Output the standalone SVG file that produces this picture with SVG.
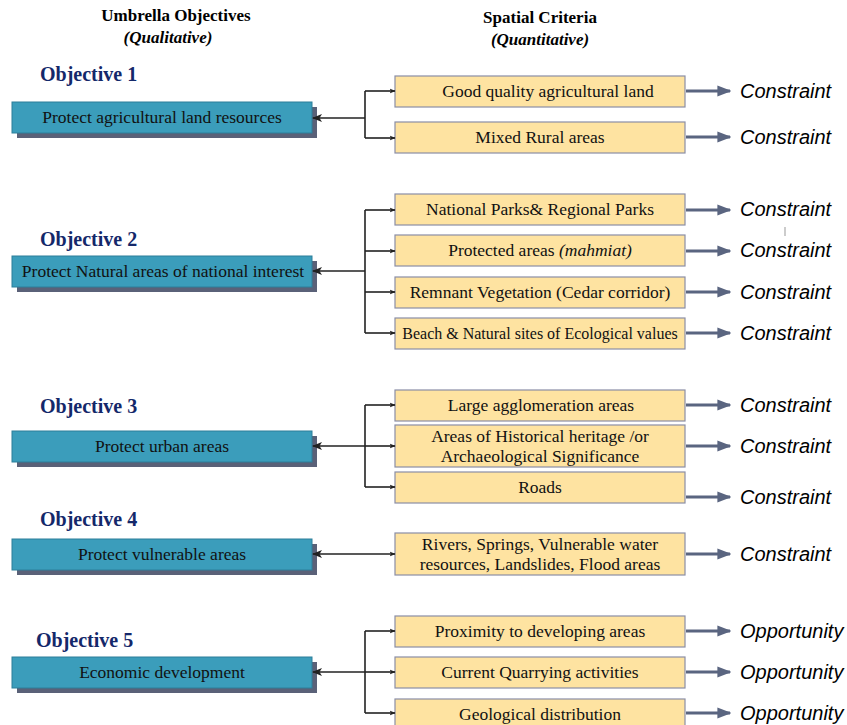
<svg xmlns="http://www.w3.org/2000/svg" width="847" height="725" viewBox="0 0 847 725">
<style>
.hdr{font-family:"Liberation Serif","Times New Roman",serif;font-weight:bold;font-size:17px;fill:#000;text-anchor:middle}
.hdri{font-style:italic}
.obj{font-family:"Liberation Serif","Times New Roman",serif;font-weight:bold;font-size:20px;fill:#14286a}
.tb{fill:#3b9dbb;stroke:#2d7f9a;stroke-width:1}
.sh{fill:#5a6178}
.tt{font-family:"Liberation Serif","Times New Roman",serif;font-size:17.5px;fill:#111;text-anchor:middle}
.cb{fill:#fee3a1;stroke:#8a8ea6;stroke-width:1.2}
.ct{font-family:"Liberation Serif","Times New Roman",serif;font-size:17.5px;fill:#111;text-anchor:middle}
.res{font-family:"Liberation Sans",Arial,sans-serif;font-style:italic;font-size:20px;fill:#000}
.ln{fill:none;stroke:#222;stroke-width:1.6}
.ga{fill:none;stroke:#5a6580;stroke-width:3}
</style>
<defs>
<marker id="ah" viewBox="0 0 10 10" refX="9" refY="5" markerWidth="6" markerHeight="6" orient="auto-start-reverse" markerUnits="userSpaceOnUse">
<path d="M0,1 L10,5 L0,9 L2.5,5 Z" fill="#222"/>
</marker>
<marker id="ahl" viewBox="0 0 10 10" refX="9" refY="5" markerWidth="10" markerHeight="10" orient="auto-start-reverse" markerUnits="userSpaceOnUse">
<path d="M0,1 L10,5 L0,9 L2.5,5 Z" fill="#222"/>
</marker>
<marker id="ga" viewBox="0 0 10 10" refX="9" refY="5" markerWidth="14" markerHeight="14" orient="auto" markerUnits="userSpaceOnUse">
<path d="M0,1 L10,5 L0,9 Z" fill="#5a6580"/>
</marker>
</defs>

<g id="headers">
<text class="hdr" x="176" y="21">Umbrella Objectives</text>
<text class="hdr hdri" x="168" y="43">(Qualitative)</text>
<text class="hdr" x="540" y="23">Spatial Criteria</text>
<text class="hdr hdri" x="540" y="45">(Quantitative)</text>
</g>

<g id="objective1">
<text class="obj" x="40" y="81">Objective 1</text>
<rect class="sh" x="17" y="107" width="300" height="31"/>
<rect class="tb" x="12" y="102" width="300" height="31"/>
<text class="tt" x="162" y="123">Protect agricultural land resources</text>
</g>
<g id="objective2">
<text class="obj" x="40" y="246">Objective 2</text>
<rect class="sh" x="17" y="261" width="300" height="31"/>
<rect class="tb" x="12" y="256" width="300" height="31"/>
<text class="tt" x="163" y="277">Protect Natural areas of national interest</text>
</g>
<g id="objective3">
<text class="obj" x="40" y="413">Objective 3</text>
<rect class="sh" x="17" y="436" width="300" height="31"/>
<rect class="tb" x="12" y="431" width="300" height="31"/>
<text class="tt" x="162" y="452">Protect urban areas</text>
</g>
<g id="objective4">
<text class="obj" x="40" y="526">Objective 4</text>
<rect class="sh" x="17" y="544" width="300" height="31"/>
<rect class="tb" x="12" y="539" width="300" height="31"/>
<text class="tt" x="162" y="560">Protect vulnerable areas</text>
</g>
<g id="objective5">
<text class="obj" x="36" y="647">Objective 5</text>
<rect class="sh" x="17" y="662" width="300" height="31"/>
<rect class="tb" x="12" y="657" width="300" height="31"/>
<text class="tt" x="162" y="678">Economic development</text>
</g>

<g id="c1"><rect class="cb" x="395" y="76" width="290" height="31"/><text class="ct" x="548" y="97">Good quality agricultural land</text></g>
<g id="c2"><rect class="cb" x="395" y="122" width="290" height="31"/><text class="ct" x="540" y="143">Mixed Rural areas</text></g>
<g id="c3"><rect class="cb" x="395" y="194" width="290" height="31"/><text class="ct" x="540" y="215">National Parks&amp; Regional Parks</text></g>
<g id="c4"><rect class="cb" x="395" y="235" width="290" height="31"/><text class="ct" x="540" y="256">Protected areas <tspan font-style="italic">(mahmiat)</tspan></text></g>
<g id="c5"><rect class="cb" x="395" y="277" width="290" height="31"/><text class="ct" x="540" y="298">Remnant Vegetation (Cedar corridor)</text></g>
<g id="c6"><rect class="cb" x="395" y="318" width="290" height="31"/><text class="ct" x="540" y="339" style="font-size:16px">Beach &amp; Natural sites of Ecological values</text></g>
<g id="c7"><rect class="cb" x="395" y="390" width="290" height="31"/><text class="ct" x="541" y="411">Large agglomeration areas</text></g>
<g id="c8"><rect class="cb" x="395" y="425" width="290" height="42"/><text class="ct" x="540" y="442">Areas of Historical heritage /or</text><text class="ct" x="540" y="462">Archaeological Significance</text></g>
<g id="c9"><rect class="cb" x="395" y="472" width="290" height="31"/><text class="ct" x="540" y="493">Roads</text></g>
<g id="c10"><rect class="cb" x="395" y="533" width="290" height="42"/><text class="ct" x="540" y="550">Rivers, Springs, Vulnerable water</text><text class="ct" x="540" y="570">resources, Landslides, Flood areas</text></g>
<g id="c11"><rect class="cb" x="395" y="616" width="290" height="31"/><text class="ct" x="540" y="637">Proximity to developing areas</text></g>
<g id="c12"><rect class="cb" x="395" y="657" width="290" height="31"/><text class="ct" x="540" y="678">Current Quarrying activities</text></g>
<g id="c13"><rect class="cb" x="395" y="699" width="290" height="31"/><text class="ct" x="540" y="720">Geological distribution</text></g>

<g id="results">
<text class="res" x="740" y="98">Constraint</text>
<text class="res" x="740" y="144">Constraint</text>
<text class="res" x="740" y="216">Constraint</text>
<text class="res" x="740" y="257">Constraint</text>
<text class="res" x="740" y="299">Constraint</text>
<text class="res" x="740" y="340">Constraint</text>
<text class="res" x="740" y="412">Constraint</text>
<text class="res" x="740" y="453">Constraint</text>
<text class="res" x="740" y="504">Constraint</text>
<text class="res" x="740" y="561">Constraint</text>
<text class="res" x="740" y="638">Opportunity</text>
<text class="res" x="740" y="679">Opportunity</text>
<text class="res" x="740" y="720">Opportunity</text>
<line x1="785" y1="227" x2="785" y2="236" stroke="#999" stroke-width="1"/>
</g>

<g id="connectors">
<path class="ln" d="M365,118 H313" marker-end="url(#ahl)"/>
<path class="ln" d="M365,91 V138"/>
<path class="ln" d="M365,91 H395" marker-end="url(#ah)"/>
<path class="ln" d="M365,138 H395" marker-end="url(#ah)"/>
<path class="ln" d="M365,271 H313" marker-end="url(#ahl)"/>
<path class="ln" d="M365,210 V333"/>
<path class="ln" d="M365,210 H395" marker-end="url(#ah)"/>
<path class="ln" d="M365,251 H395" marker-end="url(#ah)"/>
<path class="ln" d="M365,292 H395" marker-end="url(#ah)"/>
<path class="ln" d="M365,333 H395" marker-end="url(#ah)"/>
<path class="ln" d="M365,446 H313" marker-end="url(#ahl)"/>
<path class="ln" d="M365,405 V487"/>
<path class="ln" d="M365,405 H395" marker-end="url(#ah)"/>
<path class="ln" d="M365,446 H395" marker-end="url(#ah)"/>
<path class="ln" d="M365,487 H395" marker-end="url(#ah)"/>
<path class="ln" d="M313,554 H395" marker-start="url(#ahl)" marker-end="url(#ah)"/>
<path class="ln" d="M365,672 H313" marker-end="url(#ahl)"/>
<path class="ln" d="M365,631 V713"/>
<path class="ln" d="M365,631 H395" marker-end="url(#ah)"/>
<path class="ln" d="M365,672 H395" marker-end="url(#ah)"/>
<path class="ln" d="M365,713 H395" marker-end="url(#ah)"/>
<path class="ga" d="M686,91 H730" marker-end="url(#ga)"/>
<path class="ga" d="M686,137 H730" marker-end="url(#ga)"/>
<path class="ga" d="M686,210 H730" marker-end="url(#ga)"/>
<path class="ga" d="M686,251 H730" marker-end="url(#ga)"/>
<path class="ga" d="M686,292 H730" marker-end="url(#ga)"/>
<path class="ga" d="M686,333 H730" marker-end="url(#ga)"/>
<path class="ga" d="M686,405 H730" marker-end="url(#ga)"/>
<path class="ga" d="M686,446 H730" marker-end="url(#ga)"/>
<path class="ga" d="M686,497 H730" marker-end="url(#ga)"/>
<path class="ga" d="M686,554 H730" marker-end="url(#ga)"/>
<path class="ga" d="M686,631 H730" marker-end="url(#ga)"/>
<path class="ga" d="M686,672 H730" marker-end="url(#ga)"/>
<path class="ga" d="M686,713 H730" marker-end="url(#ga)"/>
</g>
</svg>
